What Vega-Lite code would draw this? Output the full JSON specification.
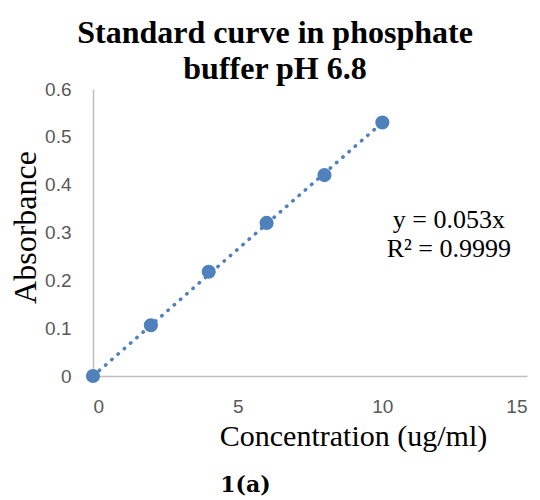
{
  "$schema": "https://vega.github.io/schema/vega-lite/v6.json",
  "width": 434,
  "height": 287,
  "autosize": {"type": "none"},
  "padding": {"left": 93, "top": 89, "right": 13, "bottom": 124},
  "background": "white",
  "datasets": {
    "points": [
      {"conc": 0, "abs": 0},
      {"conc": 2, "abs": 0.106},
      {"conc": 4, "abs": 0.218},
      {"conc": 6, "abs": 0.32},
      {"conc": 8, "abs": 0.42},
      {"conc": 10, "abs": 0.53}
    ],
    "trend": [
      {"conc": 0, "abs": 0},
      {"conc": 10, "abs": 0.53}
    ]
  },
  "title": {
    "text": ["Standard curve in phosphate", "buffer pH 6.8"],
    "font": "Liberation Serif",
    "fontSize": 32,
    "fontWeight": "bold",
    "color": "black",
    "lineHeight": 36,
    "anchor": "middle",
    "frame": "group",
    "dx": -35,
    "baseline": "bottom",
    "offset": -38
  },
  "layer": [
    {
      "data": {"name": "trend"},
      "mark": {"type": "line", "color": "#4f81bd", "strokeWidth": 3.5, "strokeDash": [0.5, 7.8], "strokeCap": "round"},
      "encoding": {
        "x": {"field": "conc", "type": "quantitative",
          "scale": {"domain": [0, 15], "nice": false, "zero": false},
          "axis": {
            "values": [0, 5, 10, 15],
            "title": "Concentration (ug/ml)",
            "titleFont": "Liberation Serif", "titleFontSize": 30, "titleFontWeight": "normal", "titleColor": "black",
            "titleX": 260, "titleY": 69, "titleBaseline": "alphabetic", "titleAlign": "center",
            "labelFont": "Liberation Sans", "labelFontSize": 19, "labelColor": "#595959", "labelPadding": 21,
            "ticks": false, "grid": false, "domainColor": "#bfbfbf", "domainWidth": 1.5
          }
        },
        "y": {"field": "abs", "type": "quantitative",
          "scale": {"domain": [0, 0.6], "nice": false},
          "axis": {
            "values": [0, 0.1, 0.2, 0.3, 0.4, 0.5, 0.6],
            "format": "~g",
            "title": "Absorbance",
            "titleFont": "Liberation Serif", "titleFontSize": 32, "titleFontWeight": "normal", "titleColor": "black",
            "titleX": -58, "titleY": 138, "titleBaseline": "alphabetic", "titleAlign": "center", "titleAngle": -90,
            "labelFont": "Liberation Sans", "labelFontSize": 19, "labelColor": "#595959", "labelPadding": 22,
            "ticks": false, "grid": false, "domainColor": "#bfbfbf", "domainWidth": 1.5
          }
        }
      }
    },
    {
      "data": {"name": "points"},
      "mark": {"type": "circle", "color": "#4f81bd", "size": 200, "opacity": 1},
      "encoding": {
        "x": {"field": "conc", "type": "quantitative"},
        "y": {"field": "abs", "type": "quantitative"}
      }
    },
    {
      "data": {"values": [{}]},
      "mark": {"type": "text", "font": "Liberation Serif", "fontSize": 26, "color": "black", "align": "center", "baseline": "alphabetic", "lineHeight": 29, "clip": false},
      "encoding": {
        "x": {"datum": 12.3, "type": "quantitative"},
        "y": {"datum": 0.309, "type": "quantitative"},
        "text": {"value": ["y = 0.053x", "R² = 0.9999"]}
      }
    },
    {
      "data": {"values": [{}]},
      "mark": {"type": "text", "font": "DejaVu Serif", "fontWeight": "bold", "fontSize": 22, "color": "black", "align": "center", "baseline": "alphabetic", "clip": false},
      "encoding": {
        "x": {"datum": 5.27, "type": "quantitative"},
        "y": {"datum": -0.2425, "type": "quantitative"},
        "text": {"value": "1(a)"}
      }
    }
  ],
  "config": {
    "view": {"stroke": null}
  }
}
